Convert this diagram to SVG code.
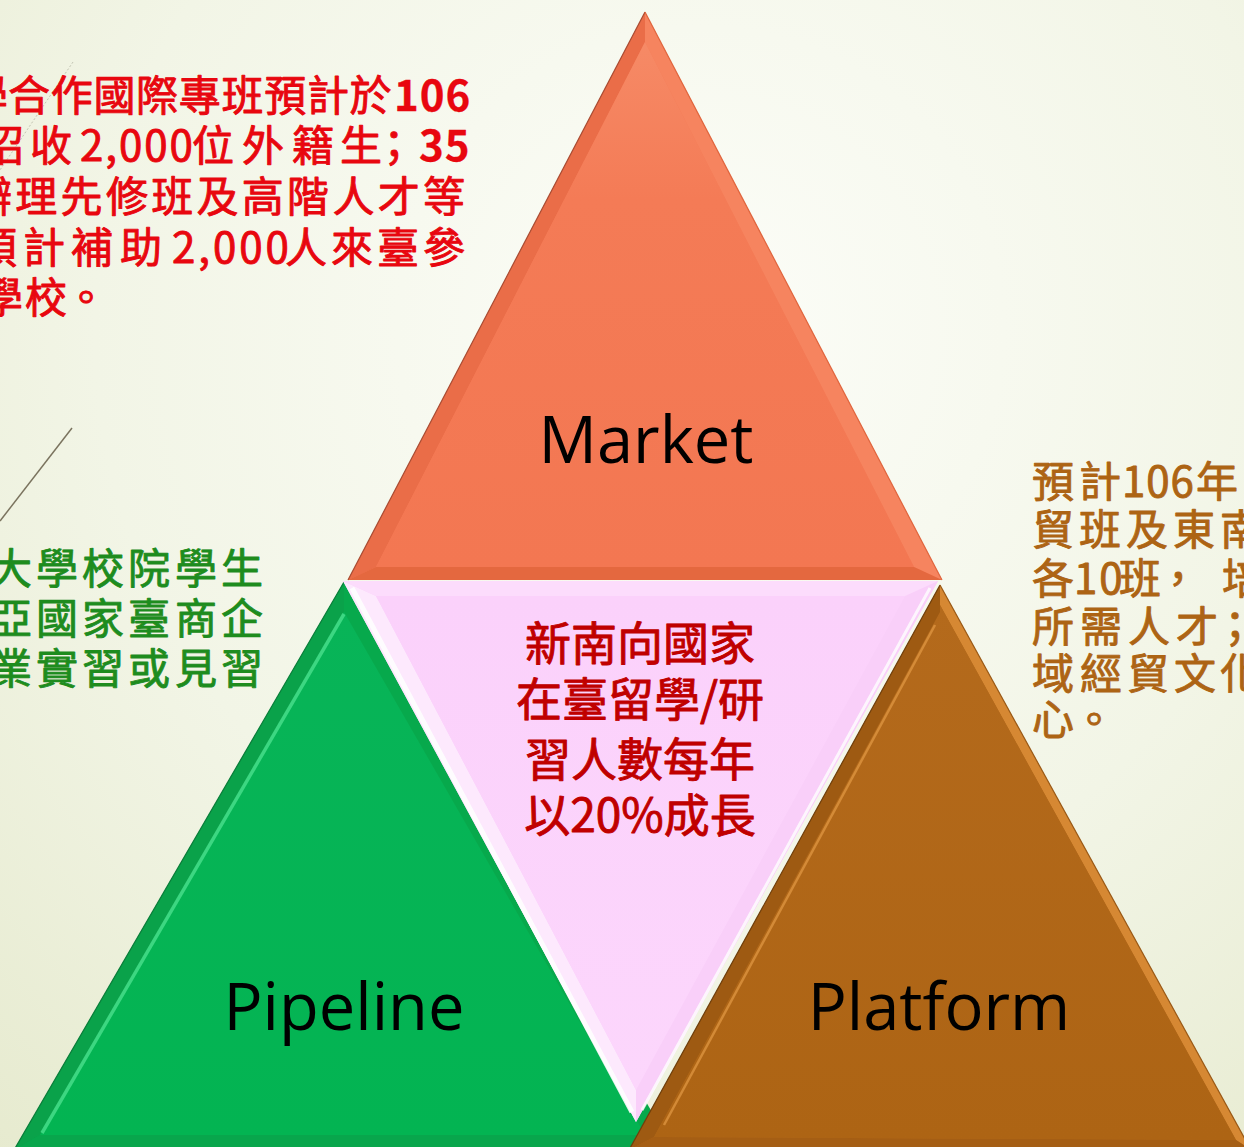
<svg xmlns="http://www.w3.org/2000/svg" width="1244" height="1147" viewBox="0 0 1244 1147">
<defs>
  <radialGradient id="bg" cx="700" cy="330" r="1100" gradientUnits="userSpaceOnUse">
    <stop offset="0" stop-color="#fcfdf8"/>
    <stop offset="0.55" stop-color="#f2f5e6"/>
    <stop offset="1" stop-color="#e6eace"/>
  </radialGradient>
  <linearGradient id="orangeIn" x1="0" y1="0" x2="0" y2="1">
    <stop offset="0" stop-color="#f68a66"/>
    <stop offset="0.3" stop-color="#f47b56"/>
    <stop offset="1" stop-color="#f37752"/>
  </linearGradient>
  <linearGradient id="pinkIn" x1="0" y1="0" x2="0" y2="1">
    <stop offset="0" stop-color="#fbd1fb"/>
    <stop offset="1" stop-color="#fcd6fc"/>
  </linearGradient>
  <linearGradient id="greenIn" x1="0" y1="0" x2="0" y2="1">
    <stop offset="0" stop-color="#08b458"/>
    <stop offset="1" stop-color="#03b452"/>
  </linearGradient>
  <linearGradient id="brownIn" x1="0" y1="0" x2="0" y2="1">
    <stop offset="0" stop-color="#b46a1c"/>
    <stop offset="1" stop-color="#ad6414"/>
  </linearGradient>
  <style>
    .cjk { font-family: 'Noto Sans CJK TC', 'Noto Sans CJK SC', sans-serif; font-size: 42px; font-weight: normal; stroke-width: 0.9px; stroke-linejoin: round; }
    .red { fill: #e8070f; stroke: #e8070f; }
    .green { fill: #1e8c1e; stroke: #1e8c1e; }
    .brown { fill: #ad6414; stroke: #ad6414; }
    .center { fill: #c00000; stroke: #c00000; font-size: 46px; text-anchor: middle; }
    .bold { font-weight: bold; stroke-width: 0.3px; }
    .label { font-family: 'Open Sans', 'Noto Sans', sans-serif; font-size: 65px; fill: #000000; text-anchor: middle; }
    .edge { fill: none; stroke-width: 1.2; }
  </style>
</defs>

<rect x="0" y="0" width="1244" height="1147" fill="url(#bg)"/>

<g id="decor">
  <line x1="73" y1="62" x2="0" y2="170" stroke="#b9baa9" stroke-width="1" stroke-dasharray="2 2" opacity="0.8"/>
  <line x1="72" y1="428" x2="0" y2="521" stroke="#7a735e" stroke-width="1.5"/>
</g>

<g id="pipeline">
  <polygon points="344,582 14,1150 674,1150" fill="#07a94c"/>
  <polygon points="344,582 14,1150 40,1135 344,612" fill="#0aa24a"/>
  <polygon points="14,1150 674,1150 645,1135 40,1135" fill="#08a64c"/>
  <polygon points="344,612 40,1135 645,1135" fill="url(#greenIn)"/>
  <line x1="344" y1="614" x2="42" y2="1133" stroke="#46de8a" stroke-width="3.5" opacity="0.85"/>
  <line x1="344" y1="582" x2="14" y2="1150" stroke="#0b7d3a" class="edge"/>
</g>

<g id="center">
  <polygon points="343,581 938,581 636,1122" fill="#fad0fa"/>
  <polygon points="343,581 376,596 636,1090 636,1122" fill="#fde9fd"/>
  <polygon points="938,581 636,1122 636,1090 905,596" fill="#f9cff9"/>
  <polygon points="343,581 938,581 905,596 376,596" fill="#fcdcfc"/>
  <polygon points="376,596 905,596 636,1090" fill="url(#pinkIn)"/>
  <line x1="352" y1="588" x2="632" y2="1112" stroke="#ffffff" stroke-width="5" opacity="0.9"/>
  <line x1="930" y1="588" x2="642" y2="1110" stroke="#ffffff" stroke-width="3" opacity="0.8"/>
  <text class="cjk center" x="640" y="660">新南向國家</text>
  <text class="cjk center" x="640" y="716">在臺留學/研</text>
  <text class="cjk center" x="640" y="776">習人數每年</text>
  <text class="cjk center" x="640" y="832">以20%成長</text>
</g>

<g id="platform">
  <polygon points="940,585 629,1150 1251,1150" fill="#b06618"/>
  <polygon points="940,585 629,1150 654,1137 940,614" fill="#9e5a12"/>
  <polygon points="940,585 940,605 1236,1140 1251,1150" fill="#d68833"/>
  <polygon points="629,1150 1251,1150 1236,1140 654,1137" fill="#a55e14"/>
  <polygon points="940,612 654,1137 1236,1140 940,605" fill="url(#brownIn)"/>
  <line x1="935" y1="625" x2="664" y2="1125" stroke="#e39a45" stroke-width="2.5" opacity="0.7"/>
  <line x1="940" y1="585" x2="629" y2="1150" stroke="#6e3f0c" class="edge"/>
  <line x1="940" y1="585" x2="1251" y2="1150" stroke="#9a5a18" class="edge"/>
  <text class="label" x="939" y="1030">Platform</text>
</g>

<g id="market">
  <polygon points="645,12 348,580 942,580" fill="#f47a55"/>
  <polygon points="645,12 348,580 376,567 645,42" fill="#ea6d48"/>
  <polygon points="645,12 645,42 914,567 942,580" fill="#f6845f"/>
  <polygon points="348,580 942,580 914,567 376,567" fill="#e4683f"/>
  <polygon points="645,42 376,567 914,567" fill="url(#orangeIn)"/>
  <line x1="645" y1="12" x2="348" y2="580" stroke="#a84c33" class="edge"/>
  <line x1="645" y1="12" x2="942" y2="580" stroke="#e0663f" class="edge"/>
  <text class="label" x="646" y="463">Market</text>
</g>

<g id="pipeline-label">
  <text class="label" x="344" y="1030">Pipeline</text>
</g>

<g id="text-red" class="cjk red">
  <text y="111"><tspan x="-34 8 50.7 93.4 136.1 178.8 221.5 264.2 306.9 349.6">學合作國際專班預計於</tspan><tspan class="bold" x="394" letter-spacing="1">106</tspan></text>
  <text y="161"><tspan x="-18 30">招收</tspan><tspan x="80" letter-spacing="2">2,000</tspan><tspan x="192 242 292 340 373">位外籍生；</tspan><tspan class="bold" x="419" letter-spacing="1">35</tspan></text>
  <text y="212" x="-30 15.3 60.6 105.9 151.2 196.5 241.8 287.1 332.4 377.7 423">辦理先修班及高階人才等</text>
  <text y="263"><tspan x="-25 23 71 120">預計補助</tspan><tspan x="172" letter-spacing="3">2,000</tspan><tspan x="285 331 377 423">人來臺參</tspan></text>
  <text y="313" x="-19 25 65">學校。</text>
</g>

<g id="text-green" class="cjk green">
  <text y="584" x="-10 36 82 128 175 221">大學校院學生</text>
  <text y="634" x="-10 36 82 128 175 221">亞國家臺商企</text>
  <text y="684" x="-10 36 82 128 175 221">業實習或見習</text>
</g>

<g id="text-brown" class="cjk brown">
  <text y="497"><tspan x="1032 1079">預計</tspan><tspan x="1122" letter-spacing="1">106</tspan><tspan x="1196">年</tspan></text>
  <text y="545" x="1032 1079 1126 1173 1220">貿班及東南</text>
  <text y="594"><tspan x="1032">各</tspan><tspan x="1074" letter-spacing="2">10</tspan><tspan x="1119 1157 1222">班，培</tspan></text>
  <text y="642" x="1032 1080 1128 1176 1214">所需人才；</text>
  <text y="689" x="1032 1080 1127 1174 1220">域經貿文化</text>
  <text y="735" x="1032 1073">心。</text>
</g>
</svg>
